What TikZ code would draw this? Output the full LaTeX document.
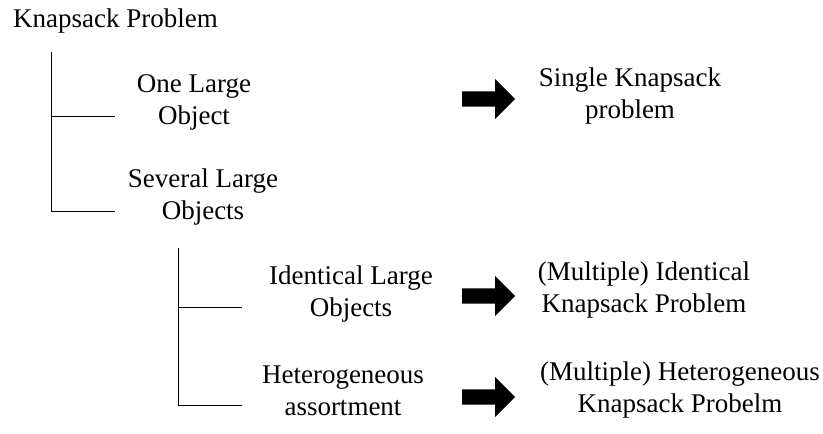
\documentclass[tikz,border=0pt]{standalone}
\usepackage{fontspec}
\setmainfont{Liberation Serif}
\usepackage{xcolor}
\usetikzlibrary{shapes.arrows}

\begin{document}
\begin{tikzpicture}[x=1pt,y=-1pt,
		txt/.style={align=center,inner sep=0pt,anchor=base,font=\fontsize{27}{31.5}\selectfont},
		bigarrow/.style={single arrow,fill=black,draw=none,inner sep=7.5pt,minimum height=53pt,
			single arrow head extend=12.5pt,single arrow tip angle=90,anchor=tail}]
		\useasboundingbox (0,0) rectangle (823,434);
		\node[txt,anchor=base west] (KP) at (13,27) {Knapsack Problem};
		\node[txt] (One) at (194,124) {One Large\\Object};
		\node[txt] (Sev) at (203,219) {Several Large\\Objects};
		\node[txt] (Ident) at (351,316) {Identical Large\\Objects};
		\node[txt] (Hetero) at (343,415) {Heterogeneous\\assortment};
		\node[txt] (Single) at (630,118) {Single Knapsack\\problem};
		\node[txt] (MIdent) at (644,312) {(Multiple) Identical\\Knapsack Problem};
		\node[txt] (MHetero) at (680,412) {(Multiple) Heterogeneous\\Knapsack Probelm};
		\coordinate (T1) at (51,52);
		\coordinate (B1) at (51,211);
		\coordinate (E1) at (115,116);
		\coordinate (E2) at (115,211);
		\draw [line width=1pt] (T1) -- (B1) -- (E2);
		\draw [line width=1pt] (T1 |- E1) -- (E1);
		\coordinate (T2) at (178,248);
		\coordinate (B2) at (178,405);
		\coordinate (E3) at (242,307);
		\coordinate (E4) at (242,405);
		\draw [line width=1pt] (T2) -- (B2) -- (E4);
		\draw [line width=1pt] (T2 |- E3) -- (E3);
		\node[bigarrow] (A1) at (462,99) {};
		\node[bigarrow] (A2) at (462,296) {};
		\node[bigarrow] (A3) at (462,397) {};
	\end{tikzpicture}
\end{document}
